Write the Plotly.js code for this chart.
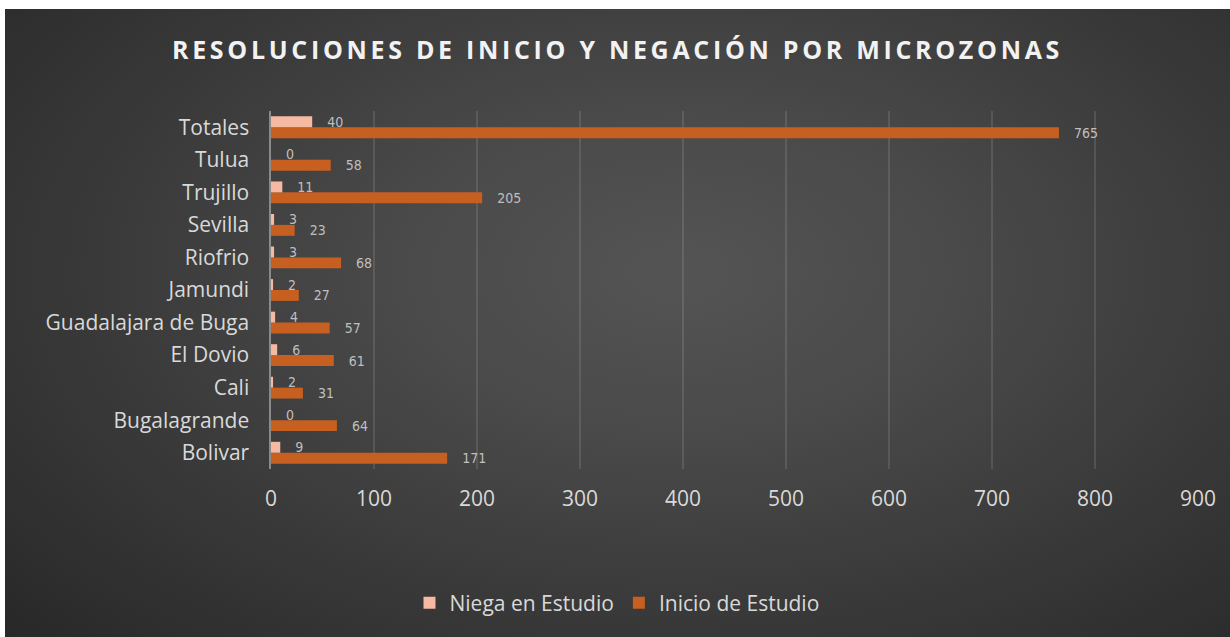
<!DOCTYPE html>
<html>
<head>
<meta charset="utf-8">
<script src="https://cdn.plot.ly/plotly-3.0.1.min.js"></script>
<style>
  html, body { margin: 0; padding: 0; background: #ffffff; width: 1230px; height: 637px; overflow: hidden; }
  #wrap { position: absolute; left: 5px; top: 9px; width: 1225px; height: 628px;
    background: radial-gradient(ellipse 75% 85% at 55% 42%, #545454 0%, #4a4a4a 30%, #3a3a3a 62%, #282828 100%); }
  #chart { width: 1225px; height: 628px; }
  .gtitle { letter-spacing: 3.7px; }
</style>
</head>
<body>
<div id="wrap"><div id="chart"></div></div>
<script>
const categories = ["Bolivar", "Bugalagrande", "Cali", "El Dovio", "Guadalajara de Buga", "Jamundi", "Riofrio", "Sevilla", "Trujillo", "Tulua", "Totales"];
const niegaEnEstudio = [9, 0, 2, 6, 4, 2, 3, 3, 11, 0, 40];
const inicioDeEstudio = [171, 64, 31, 61, 57, 27, 68, 23, 205, 58, 765];
const xTicks = [0, 100, 200, 300, 400, 500, 600, 700, 800, 900];

const labelFont = { family: "DejaVu Sans Condensed, DejaVu Sans, sans-serif", size: 14, color: "#bfbfbf" };
const pad = "\u00a0\u00a0\u00a0";

const traces = [
  {
    type: "bar", orientation: "h", name: "Inicio de Estudio",
    y: categories, x: inicioDeEstudio,
    marker: { color: "#c65f20" },
    text: inicioDeEstudio.map(v => pad + v), textposition: "outside", constraintext: "none",
    textfont: labelFont, cliponaxis: false, hoverinfo: "x+y+name"
  },
  {
    type: "bar", orientation: "h", name: "Niega en Estudio",
    y: categories, x: niegaEnEstudio,
    marker: { color: "#f6b9a2" },
    text: niegaEnEstudio.map(v => pad + v), textposition: "outside", constraintext: "none",
    textfont: labelFont, cliponaxis: false, hoverinfo: "x+y+name"
  }
];

const tickFont = { family: "Open Sans, sans-serif", size: 21, color: "#d9d9d9" };

const layout = {
  width: 1225, height: 628,
  paper_bgcolor: "rgba(0,0,0,0)", plot_bgcolor: "rgba(0,0,0,0)",
  margin: { l: 266, r: 32, t: 102, b: 168 },
  barmode: "group", bargap: 0.33, bargroupgap: 0,
  title: {
    text: "<b>RESOLUCIONES DE INICIO Y NEGACIÓN POR MICROZONAS</b>",
    font: { family: "Open Sans, sans-serif", size: 25, color: "#f2f2f2" },
    x: 0.5, xref: "container", xanchor: "center",
    y: 1 - 41 / 628, yref: "container", yanchor: "middle"
  },
  xaxis: {
    range: [0, 900], tickvals: xTicks, ticktext: xTicks.map(String),
    showgrid: true, gridcolor: "rgba(255,255,255,0.11)", gridwidth: 1.3,
    zeroline: false, showline: false, ticks: "",
    tickfont: tickFont,
    ticklabelstandoff: 15, fixedrange: true
  },
  yaxis: {
    categoryorder: "array", categoryarray: categories,
    showgrid: false, zeroline: false,
    showline: true, linecolor: "#8a8a8a", linewidth: 1.6,
    ticks: "", ticklabelstandoff: 16,
    tickfont: tickFont,
    fixedrange: true
  },
  showlegend: true,
  legend: {
    orientation: "h", traceorder: "reversed",
    x: 612 / 1225, xref: "container", xanchor: "center",
    y: 1 - 594 / 628, yref: "container", yanchor: "middle",
    font: tickFont,
    bgcolor: "rgba(0,0,0,0)", itemwidth: 30
  }
};

Plotly.newPlot("chart", traces, layout, { displayModeBar: false, staticPlot: true });
</script>
</body>
</html>
